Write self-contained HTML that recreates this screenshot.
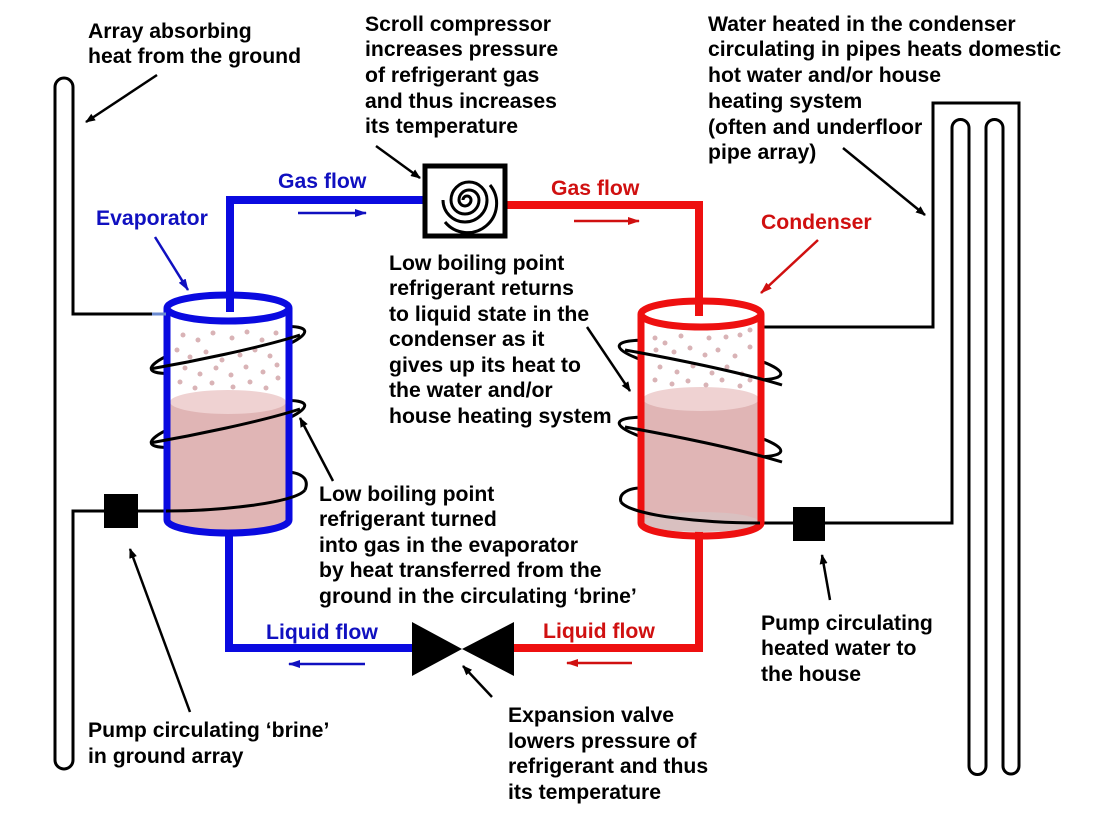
<!DOCTYPE html>
<html><head><meta charset="utf-8"><style>
html,body{margin:0;padding:0;background:#fff}
svg{display:block}
text{font-family:"Liberation Sans",Arial,sans-serif;font-weight:bold;font-size:21.2px}
</style></head><body>
<svg width="1100" height="825" viewBox="0 0 1100 825" xmlns="http://www.w3.org/2000/svg">
<defs>
<marker id="ab" markerWidth="10" markerHeight="8" refX="9" refY="4" orient="auto" markerUnits="userSpaceOnUse"><path d="M0,0 L10,4 L0,8z" fill="#000"/></marker>
<marker id="abl" markerWidth="12" markerHeight="8" refX="11" refY="4" orient="auto" markerUnits="userSpaceOnUse"><path d="M0,0 L12,4 L0,8z" fill="#1010c0"/></marker>
<marker id="ar" markerWidth="12" markerHeight="8" refX="11" refY="4" orient="auto" markerUnits="userSpaceOnUse"><path d="M0,0 L12,4 L0,8z" fill="#d01010"/></marker>
</defs>

<g fill="none" stroke="#000" stroke-width="3">
<path d="M55,760 L55,87 A9,9 0 0 1 73,87 L73,314 L166,314"/>
<path d="M166,511 L73,511 L73,760 A9,9 0 0 1 55,760"/>
</g>
<rect x="104" y="494" width="34" height="34" fill="#000"/>

<g fill="none" stroke="#000" stroke-width="3">
<path d="M760,327 L933,327 L933,103 L1019,103 L1019,766 A8,8 0 0 1 1003,766 L1003,128 A8.5,8.5 0 0 0 986,128 L986,766 A8.5,8.5 0 0 1 969,766 L969,128 A8.5,8.5 0 0 0 952,128 L952,523 L760,523"/>
</g>
<rect x="793" y="507" width="32" height="34" fill="#000"/>

<path d="M230,305 L230,200 L424,200" fill="none" stroke="#0a0ae0" stroke-width="8"/>
<path d="M229,532 L229,648 L412,648" fill="none" stroke="#0a0ae0" stroke-width="8"/>
<path d="M506,205 L699,205 L699,310" fill="none" stroke="#ee1010" stroke-width="8"/>
<path d="M699,525 L699,648 L512,648" fill="none" stroke="#ee1010" stroke-width="8"/>

<rect x="425" y="166" width="80" height="70" fill="#fff" stroke="#000" stroke-width="5"/>
<g fill="none" stroke="#000" stroke-width="3">
<path d="M463,200 A4,4 0 0 1 471,200 A6,6 0 0 1 459,200 A10,10 0 0 1 479,200 A14,14 0 0 1 451,200 A18,18 0 0 1 487,200 A22,22 0 0 1 443,200"/>
<path d="M490,185 A26,26 0 0 1 445,222"/>
</g>

<path d="M412,622 L462,649 L412,676z M514,622 L462,649 L514,676z" fill="#000"/>

<g transform="rotate(-14 228 350)"><ellipse cx="228" cy="350" rx="79" ry="14" fill="none" stroke="#000" stroke-width="3"/></g>
<g transform="rotate(-14 228 424)"><ellipse cx="228" cy="424" rx="79" ry="14" fill="none" stroke="#000" stroke-width="3"/></g>
<path d="M285,472 C300,472 310,478 305,490" fill="none" stroke="#000" stroke-width="3"/>
<rect x="167" y="308" width="121" height="212" fill="#fff"/>
<rect x="170" y="402" width="116" height="118" fill="#e0b5b5"/>
<ellipse cx="228" cy="520" rx="58" ry="10" fill="#e0b5b5"/>
<ellipse cx="228" cy="402" rx="58" ry="12" fill="#efd2d2"/>
<g fill="#d9b3b6">
<circle cx="183" cy="335" r="2.5"/><circle cx="198" cy="340" r="2.5"/><circle cx="213" cy="333" r="2.5"/><circle cx="232" cy="338" r="2.5"/><circle cx="247" cy="332" r="2.5"/><circle cx="262" cy="340" r="2.5"/><circle cx="276" cy="333" r="2.5"/>
<circle cx="177" cy="350" r="2.5"/><circle cx="190" cy="357" r="2.5"/><circle cx="206" cy="352" r="2.5"/><circle cx="222" cy="360" r="2.5"/><circle cx="240" cy="355" r="2.5"/><circle cx="255" cy="350" r="2.5"/><circle cx="270" cy="356" r="2.5"/>
<circle cx="185" cy="368" r="2.5"/><circle cx="200" cy="374" r="2.5"/><circle cx="216" cy="368" r="2.5"/><circle cx="231" cy="375" r="2.5"/><circle cx="246" cy="367" r="2.5"/><circle cx="263" cy="372" r="2.5"/><circle cx="277" cy="365" r="2.5"/>
<circle cx="180" cy="382" r="2.5"/><circle cx="195" cy="388" r="2.5"/><circle cx="212" cy="383" r="2.5"/><circle cx="233" cy="387" r="2.5"/><circle cx="250" cy="382" r="2.5"/><circle cx="266" cy="388" r="2.5"/><circle cx="278" cy="378" r="2.5"/>
</g>
<path d="M167,308 L167,520 A61,13 0 0 0 289,520 L289,308" fill="none" stroke="#0a0ae0" stroke-width="7"/>
<ellipse cx="228" cy="308" rx="61" ry="13" fill="#fff" stroke="#0a0ae0" stroke-width="7"/>
<line x1="230" y1="296" x2="230" y2="312" stroke="#0a0ae0" stroke-width="8"/>
<g fill="none" stroke="#000" stroke-width="3">
<path d="M150,369 C190,362 260,348 300,335"/>
<path d="M150,443 C190,436 260,422 300,409"/>
<path d="M166,511 C220,511 295,503 305,490"/>
</g>
<line x1="152" y1="314" x2="166" y2="314" stroke="#6a8ad0" stroke-width="3"/>

<g transform="rotate(10 700 360)"><ellipse cx="700" cy="360" rx="82" ry="14" fill="none" stroke="#000" stroke-width="3"/></g>
<g transform="rotate(10 700 437)"><ellipse cx="700" cy="437" rx="82" ry="14" fill="none" stroke="#000" stroke-width="3"/></g>
<path d="M640,488 C630,488 618,493 621,502" fill="none" stroke="#000" stroke-width="3"/>
<rect x="640" y="313" width="122" height="212" fill="#fff"/>
<rect x="643" y="398" width="116" height="125" fill="#e0b5b5"/>
<ellipse cx="701" cy="522" rx="58" ry="10" fill="#d9c0c0"/>
<ellipse cx="701" cy="399" rx="58" ry="12" fill="#efd2d2"/>
<g fill="#d9b3b6">
<circle cx="655" cy="338" r="2.5"/><circle cx="665" cy="343" r="2.5"/><circle cx="681" cy="336" r="2.5"/><circle cx="709" cy="338" r="2.5"/><circle cx="726" cy="337" r="2.5"/><circle cx="740" cy="335" r="2.5"/><circle cx="750" cy="330" r="2.5"/>
<circle cx="656" cy="350" r="2.5"/><circle cx="674" cy="352" r="2.5"/><circle cx="690" cy="348" r="2.5"/><circle cx="705" cy="355" r="2.5"/><circle cx="718" cy="350" r="2.5"/><circle cx="735" cy="356" r="2.5"/><circle cx="750" cy="347" r="2.5"/>
<circle cx="660" cy="367" r="2.5"/><circle cx="677" cy="372" r="2.5"/><circle cx="693" cy="366" r="2.5"/><circle cx="712" cy="373" r="2.5"/><circle cx="727" cy="367" r="2.5"/><circle cx="742" cy="374" r="2.5"/>
<circle cx="655" cy="380" r="2.5"/><circle cx="672" cy="384" r="2.5"/><circle cx="688" cy="381" r="2.5"/><circle cx="706" cy="385" r="2.5"/><circle cx="722" cy="380" r="2.5"/><circle cx="740" cy="386" r="2.5"/><circle cx="750" cy="380" r="2.5"/>
</g>
<path d="M641,314 L641,523 A60,13 0 0 0 761,523 L761,314" fill="none" stroke="#ee1010" stroke-width="7"/>
<ellipse cx="701" cy="314" rx="60" ry="13" fill="#fff" stroke="#ee1010" stroke-width="7"/>
<line x1="699" y1="300" x2="699" y2="316" stroke="#ee1010" stroke-width="8"/>
<g fill="none" stroke="#000" stroke-width="3">
<path d="M625,350 C670,358 740,372 782,385"/>
<path d="M625,427 C670,435 740,449 782,462"/>
<path d="M621,502 C630,515 700,523 760,523"/>
</g>

<g stroke="#000" stroke-width="2.5" fill="none" marker-end="url(#ab)">
<line x1="157" y1="75" x2="86" y2="122"/>
<line x1="376" y1="146" x2="420" y2="178"/>
<line x1="843" y1="148" x2="925" y2="215"/>
<line x1="587" y1="327" x2="630" y2="391"/>
<line x1="333" y1="481" x2="300" y2="418"/>
<line x1="830" y1="600" x2="822" y2="555"/>
<line x1="190" y1="712" x2="130" y2="549"/>
<line x1="492" y1="697" x2="463" y2="666"/>
</g>
<line x1="155" y1="237" x2="188" y2="290" stroke="#1010c0" stroke-width="2.5" marker-end="url(#abl)"/>
<line x1="818" y1="240" x2="761" y2="293" stroke="#d01010" stroke-width="2.5" marker-end="url(#ar)"/>
<line x1="298" y1="213" x2="366" y2="213" stroke="#1010c0" stroke-width="2.5" marker-end="url(#abl)"/>
<line x1="574" y1="221" x2="639" y2="221" stroke="#d01010" stroke-width="2.5" marker-end="url(#ar)"/>
<line x1="365" y1="664" x2="289" y2="664" stroke="#1010c0" stroke-width="2.5" marker-end="url(#abl)"/>
<line x1="632" y1="663" x2="567" y2="663" stroke="#d01010" stroke-width="2.5" marker-end="url(#ar)"/>

<g fill="#000">
<text x="88" y="38">Array absorbing</text>
<text x="88" y="63">heat from the ground</text>
<text x="365" y="31">Scroll compressor</text>
<text x="365" y="56">increases pressure</text>
<text x="365" y="82">of refrigerant gas</text>
<text x="365" y="108">and thus increases</text>
<text x="365" y="133">its temperature</text>
<text x="708" y="31">Water heated in the condenser</text>
<text x="708" y="56">circulating in pipes heats domestic</text>
<text x="708" y="82">hot water and/or house</text>
<text x="708" y="108">heating system</text>
<text x="708" y="134">(often and underfloor</text>
<text x="708" y="159">pipe array)</text>
<text x="389" y="270">Low boiling point</text>
<text x="389" y="295">refrigerant returns</text>
<text x="389" y="321">to liquid state in the</text>
<text x="389" y="346">condenser as it</text>
<text x="389" y="372">gives up its heat to</text>
<text x="389" y="397">the water and/or</text>
<text x="389" y="423">house heating system</text>
<text x="319" y="501">Low boiling point</text>
<text x="319" y="526">refrigerant turned</text>
<text x="319" y="552">into gas in the evaporator</text>
<text x="319" y="577">by heat transferred from the</text>
<text x="319" y="603">ground in the circulating ‘brine’</text>
<text x="761" y="630">Pump circulating</text>
<text x="761" y="655">heated water to</text>
<text x="761" y="681">the house</text>
<text x="88" y="737">Pump circulating ‘brine’</text>
<text x="88" y="763">in ground array</text>
<text x="508" y="722">Expansion valve</text>
<text x="508" y="748">lowers pressure of</text>
<text x="508" y="773">refrigerant and thus</text>
<text x="508" y="799">its temperature</text>
</g>
<g fill="#1010c0">
<text x="96" y="225">Evaporator</text>
<text x="278" y="188">Gas flow</text>
<text x="266" y="639">Liquid flow</text>
</g>
<g fill="#d01010">
<text x="761" y="229">Condenser</text>
<text x="551" y="195">Gas flow</text>
<text x="543" y="638">Liquid flow</text>
</g>
</svg>
</body></html>
